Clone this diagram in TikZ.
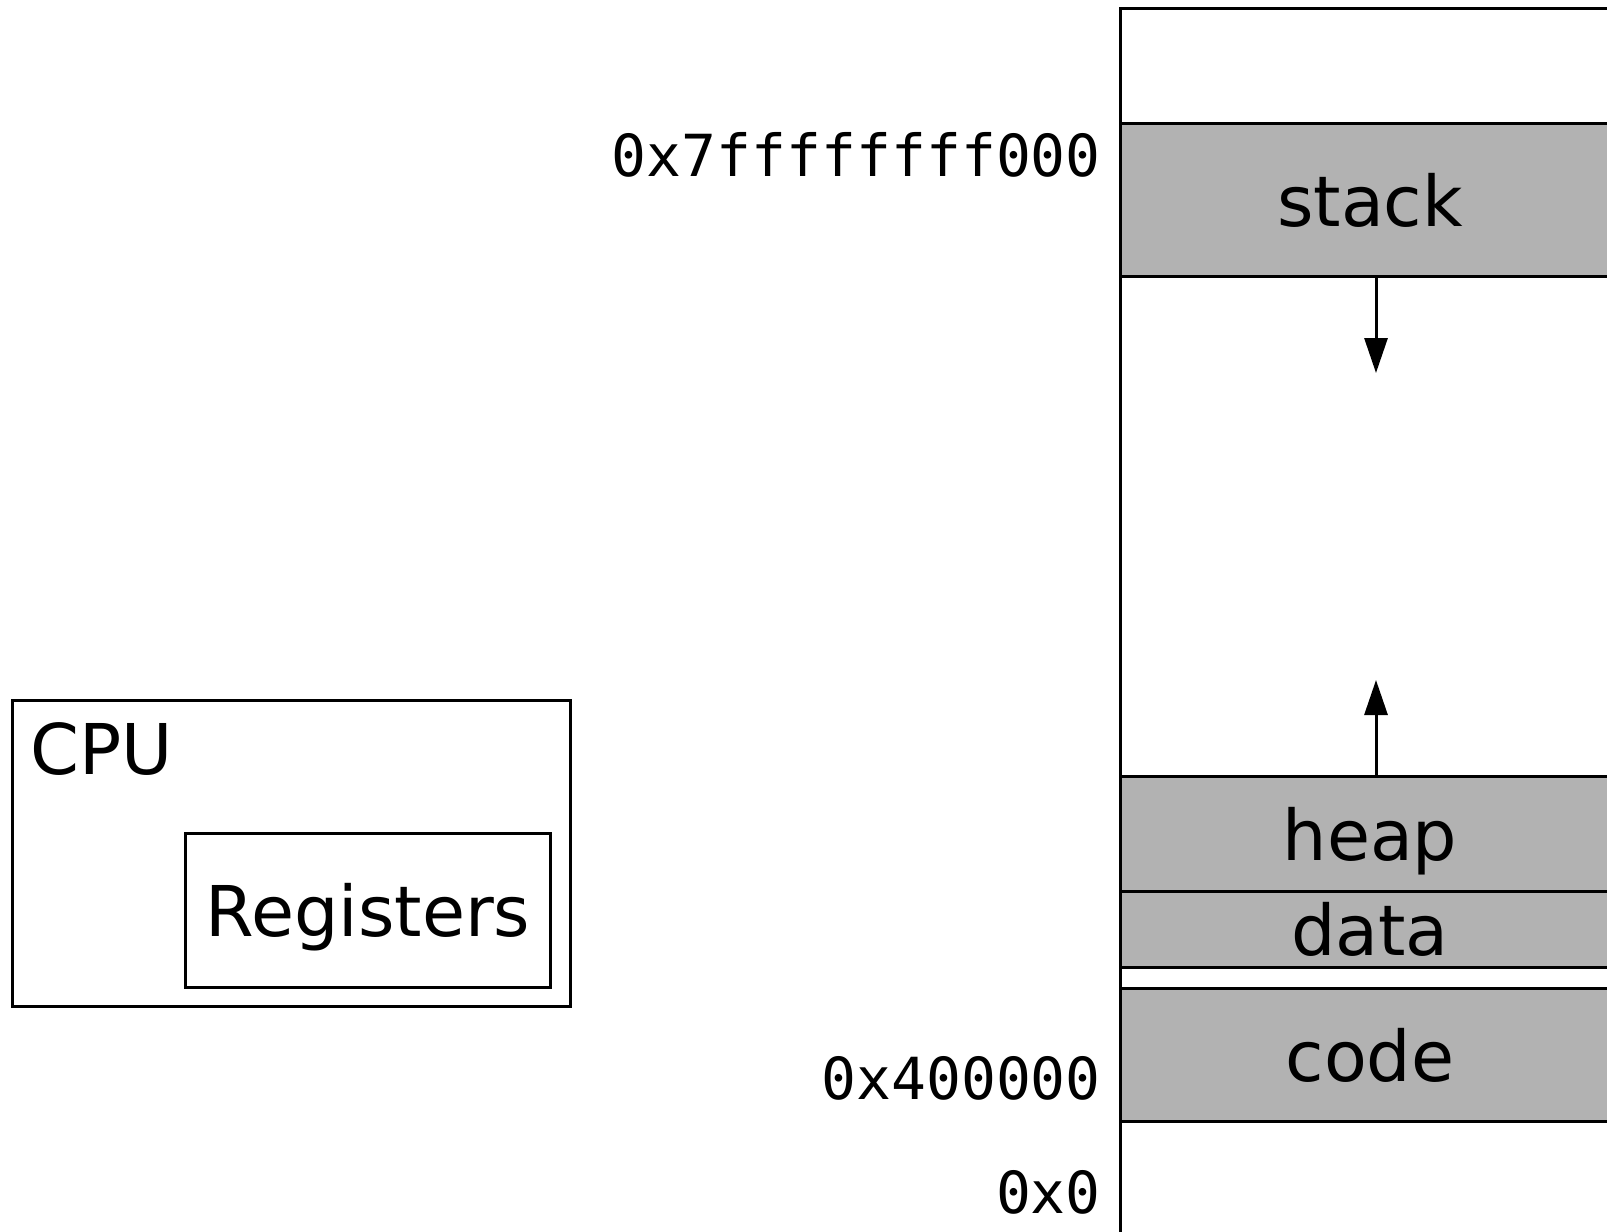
\documentclass[tikz,border=0pt]{standalone}
\usepackage{fontspec}
\setmainfont{DejaVu Sans}
\newfontfamily\addrfont{DejaVu Sans Mono}
\usetikzlibrary{arrows.meta}
\definecolor{segfill}{RGB}{178,178,178}
\tikzset{
  big/.style={font=\fontsize{70}{84}\selectfont},
  addr/.style={font=\addrfont\fontsize{58}{70}\selectfont, anchor=base east, inner sep=0pt},
  frame/.style={draw=black, line width=3pt},
  segment/.style={frame, fill=segfill, big, rectangle, inner sep=0pt, outer sep=0pt,
    minimum width=500pt, text depth=0pt},
  growarrow/.style={line width=3pt, -{Triangle[length=35pt,width=23pt]}}
}
\begin{document}
\begin{tikzpicture}[x=1pt, y=-1pt]
  \useasboundingbox (0,0) rectangle (1607,1232);
  \clip (0,0) rectangle (1607,1232);

  % address space outline (runs past the right and bottom edges)
  \draw[frame] (1120,1300) -- (1120,8) -- (1700,8);

  % memory segments
  \node[segment, minimum height=153pt] (stack) at (1370,199.5) {stack};
  \node[segment, minimum height=115pt] (heap)  at (1370,833.5) {heap};
  \node[segment, minimum height=76pt]  (data)  at (1370,929)   {data};
  \node[segment, minimum height=133pt] (code)  at (1370,1054.5) {code};

  % growth directions of stack and heap
  \coordinate (growdown) at (1376,373);
  \coordinate (growup)   at (1376,680);
  \draw[growarrow] (stack.south -| growdown) -- (growdown);
  \draw[growarrow] (heap.north -| growup) -- (growup);

  % addresses
  \node[addr] (atop)  at (1101,176)  {0x7ffffffff000};
  \node[addr] (acode) at (1101,1099) {0x400000};
  \node[addr] (azero) at (1101,1213) {0x0};

  % processor
  \draw[frame] (12,700) rectangle (570,1006);
  \node[big, anchor=base west, inner sep=0pt] (cpu) at (30,774) {CPU};
  \node[frame, big, rectangle, inner sep=0pt, outer sep=0pt, text depth=0pt,
        minimum width=365pt, minimum height=154pt] (regs) at (368,910) {Registers};
\end{tikzpicture}
\end{document}
